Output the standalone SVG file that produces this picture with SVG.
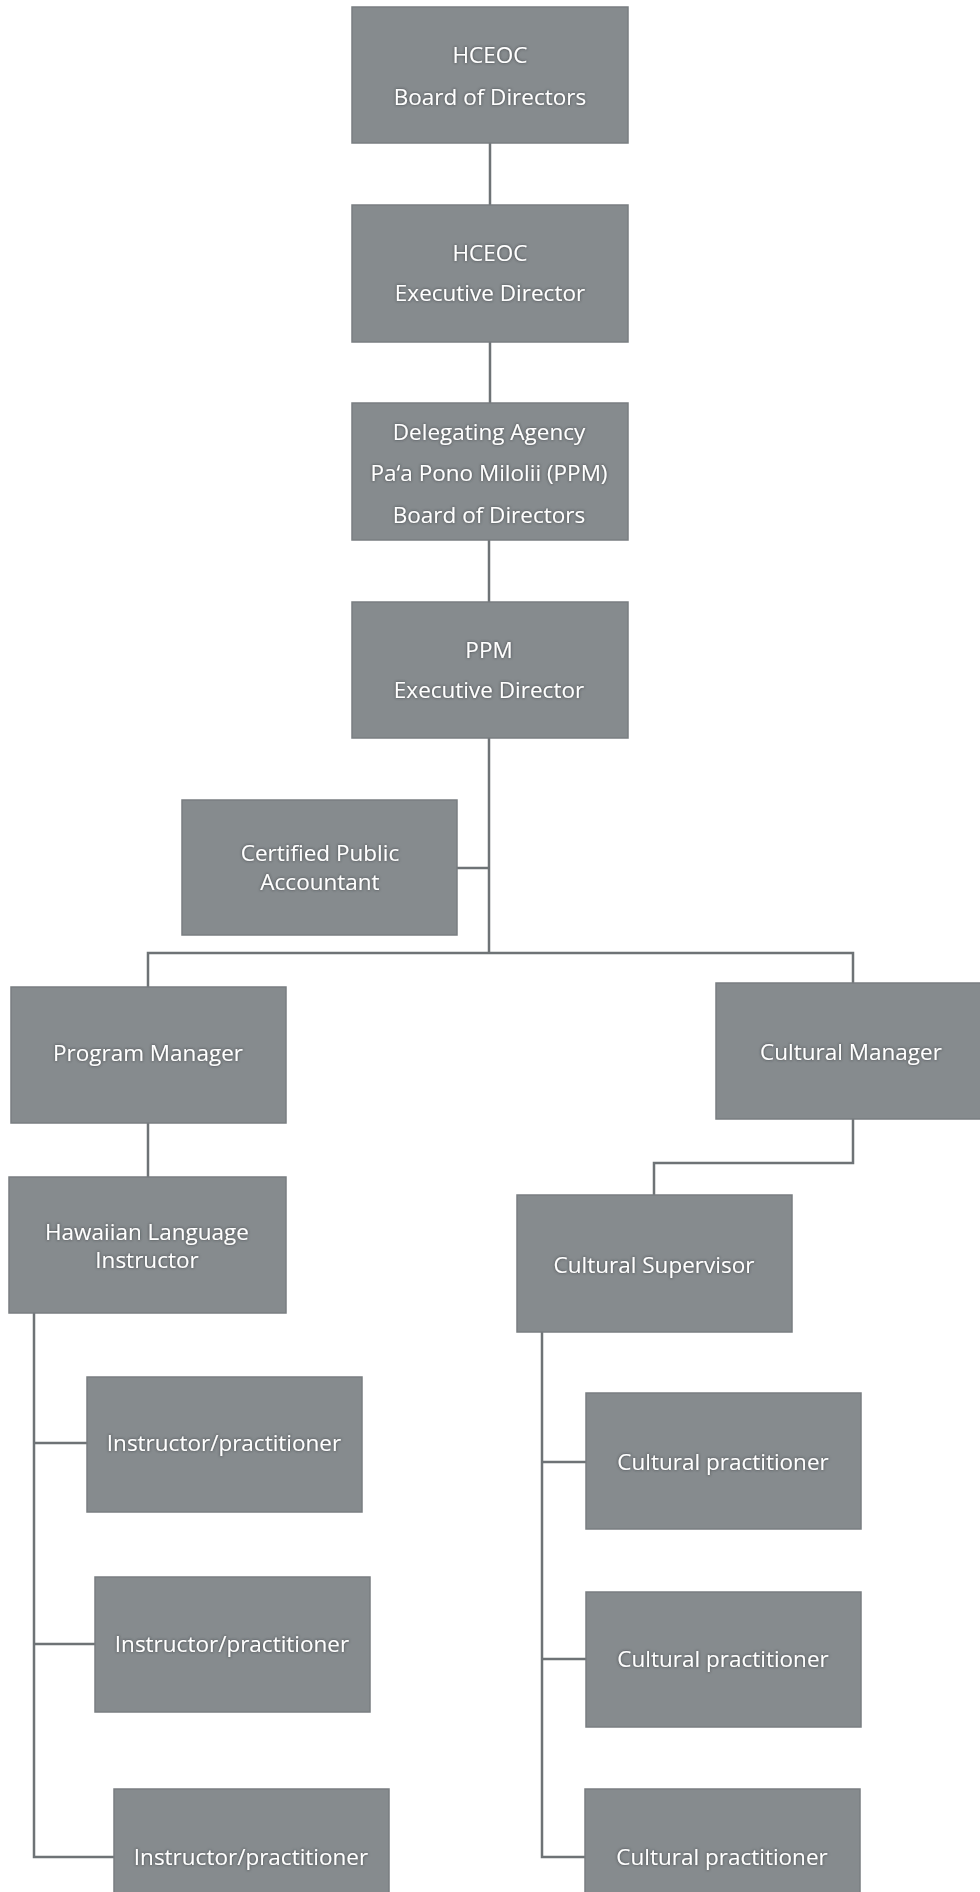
<svg xmlns="http://www.w3.org/2000/svg" width="980" height="1892" viewBox="0 0 980 1892">
<defs>
<filter id="glow" x="-15%" y="-40%" width="130%" height="180%">
<feGaussianBlur in="SourceAlpha" stdDeviation="1.6" result="b"/>
<feFlood flood-color="#2a2d2f" flood-opacity="0.8"/>
<feComposite in2="b" operator="in" result="s"/>
<feMerge><feMergeNode in="s"/><feMergeNode in="SourceGraphic"/></feMerge>
</filter>
</defs>
<style>
.box{fill:#868b8e;stroke:#797e81;stroke-width:1.5}
.lbl{font-family:"Open Sans","Liberation Sans",sans-serif;font-size:22.5px;fill:#ffffff;text-anchor:middle;filter:url(#glow)}
.con{fill:none;stroke:#6e7376;stroke-width:2.5}
</style>
<rect width="980" height="1892" fill="#ffffff"/>
<g id="connectors">
<path class="con" d="M490 143V205"/>
<path class="con" d="M490 342V403"/>
<path class="con" d="M489 540V602"/>
<path class="con" d="M489 738V953"/>
<path class="con" d="M457 868H489"/>
<path class="con" d="M148 987V953H853V983"/>
<path class="con" d="M148 1123V1177"/>
<path class="con" d="M853 1119V1163H654V1195"/>
<path class="con" d="M34 1313V1857H114"/>
<path class="con" d="M34 1443H87"/>
<path class="con" d="M34 1644H95"/>
<path class="con" d="M542 1332V1857H585"/>
<path class="con" d="M542 1462H586"/>
<path class="con" d="M542 1659H586"/>
</g>
<g id="hceoc-board"><rect class="box" x="352" y="7" width="276" height="136"/><text class="lbl" x="490" y="63">HCEOC</text><text class="lbl" x="490" y="105">Board of Directors</text></g>
<g id="hceoc-ed"><rect class="box" x="352" y="205" width="276" height="137"/><text class="lbl" x="490" y="261">HCEOC</text><text class="lbl" x="490" y="301">Executive Director</text></g>
<g id="ppm-board"><rect class="box" x="352" y="403" width="276" height="137"/><text class="lbl" x="489" y="440">Delegating Agency</text><text class="lbl" x="489" y="481">Pa‘a Pono Milolii (PPM)</text><text class="lbl" x="489" y="523">Board of Directors</text></g>
<g id="ppm-ed"><rect class="box" x="352" y="602" width="276" height="136"/><text class="lbl" x="489" y="658">PPM</text><text class="lbl" x="489" y="698">Executive Director</text></g>
<g id="cpa"><rect class="box" x="182" y="800" width="275" height="135"/><text class="lbl" x="320" y="861">Certified Public</text><text class="lbl" x="320" y="890">Accountant</text></g>
<g id="program-manager"><rect class="box" x="11" y="987" width="275" height="136"/><text class="lbl" x="148" y="1061">Program Manager</text></g>
<g id="cultural-manager"><rect class="box" x="716" y="983" width="266" height="136"/><text class="lbl" x="851" y="1060">Cultural Manager</text></g>
<g id="hawaiian-language-instructor"><rect class="box" x="9" y="1177" width="277" height="136"/><text class="lbl" x="147" y="1240">Hawaiian Language</text><text class="lbl" x="147" y="1268">Instructor</text></g>
<g id="cultural-supervisor"><rect class="box" x="517" y="1195" width="275" height="137"/><text class="lbl" x="654" y="1273">Cultural Supervisor</text></g>
<g id="instructor-1"><rect class="box" x="87" y="1377" width="275" height="135"/><text class="lbl" x="224" y="1451">Instructor/practitioner</text></g>
<g id="instructor-2"><rect class="box" x="95" y="1577" width="275" height="135"/><text class="lbl" x="232" y="1652">Instructor/practitioner</text></g>
<g id="instructor-3"><rect class="box" x="114" y="1789" width="275" height="110"/><text class="lbl" x="251" y="1865">Instructor/practitioner</text></g>
<g id="cultural-practitioner-1"><rect class="box" x="586" y="1393" width="275" height="136"/><text class="lbl" x="723" y="1470">Cultural practitioner</text></g>
<g id="cultural-practitioner-2"><rect class="box" x="586" y="1592" width="275" height="135"/><text class="lbl" x="723" y="1667">Cultural practitioner</text></g>
<g id="cultural-practitioner-3"><rect class="box" x="585" y="1789" width="275" height="110"/><text class="lbl" x="722" y="1865">Cultural practitioner</text></g>
</svg>
